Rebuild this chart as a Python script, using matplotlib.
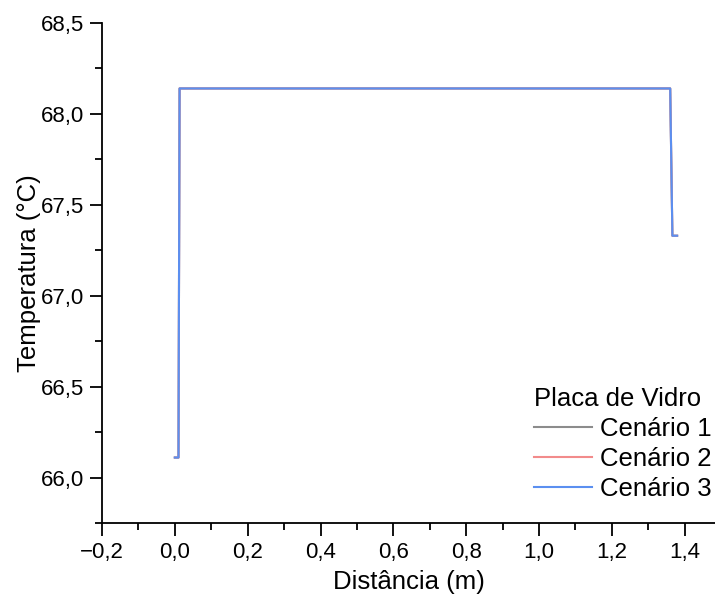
import matplotlib
matplotlib.use("Agg")
import matplotlib.pyplot as plt
from matplotlib.ticker import MultipleLocator, FuncFormatter

plt.rcParams['font.family'] = ['Liberation Sans', 'DejaVu Sans']

# Data
distancia = [0.000, 0.010, 0.013, 1.360, 1.366, 1.379]
cenario1 = [66.11, 66.11, 68.14, 68.14, 67.33, 67.33]
cenario2 = [66.11, 66.11, 68.14, 68.14, 67.33, 67.33]
cenario3 = [66.11, 66.11, 68.14, 68.14, 67.33, 67.33]
series_labels = ["Cenário 1", "Cenário 2", "Cenário 3"]
series_colors = ["#8c8c8c", "#f28b8b", "#5b8ff0"]
legend_title = "Placa de Vidro"

fig = plt.figure(figsize=(7.15, 6.01), dpi=100)
ax = fig.add_axes([102/715, 78/601, 1 - 102/715, (523-23)/601])

for vals, lab, col in zip([cenario1, cenario2, cenario3], series_labels, series_colors):
    ax.plot(distancia, vals, color=col, lw=1.5, label=lab)

ax.set_xlim(-0.2, 1.483)
ax.set_ylim(65.75, 68.5)
ax.xaxis.set_major_locator(MultipleLocator(0.2))
ax.xaxis.set_minor_locator(MultipleLocator(0.1))
ax.yaxis.set_major_locator(MultipleLocator(0.5))
ax.yaxis.set_minor_locator(MultipleLocator(0.25))

def comma(fmt):
    return FuncFormatter(lambda v, p: (fmt % v).replace('.', ',').replace('-', '\u2212'))

ax.xaxis.set_major_formatter(comma('%.1f'))
ax.yaxis.set_major_formatter(comma('%.1f'))

for s in ['top', 'right']:
    ax.spines[s].set_visible(False)
for s in ['left', 'bottom']:
    ax.spines[s].set_linewidth(1.3)
ax.tick_params(which='major', direction='out', length=9, width=1.3, labelsize=16)
ax.tick_params(axis='y', which='major', pad=4)
ax.tick_params(axis='x', which='major', pad=5)
ax.tick_params(which='minor', direction='out', length=5, width=1.3)

ax.set_xlabel("Distância (m)", fontsize=18.5, labelpad=5)
ax.set_ylabel("Temperatura (°C)", fontsize=18.5, labelpad=0)

leg = ax.legend(title=legend_title, loc='upper left',
                bbox_to_anchor=(534/715, 1 - 387/601), bbox_transform=fig.transFigure,
                frameon=False, fontsize=18.5, title_fontsize=18.5, handlelength=2.26,
                handletextpad=0.31, labelspacing=0.23, borderaxespad=0, borderpad=0,
                alignment='left')

fig.savefig("out.png", dpi=100)
